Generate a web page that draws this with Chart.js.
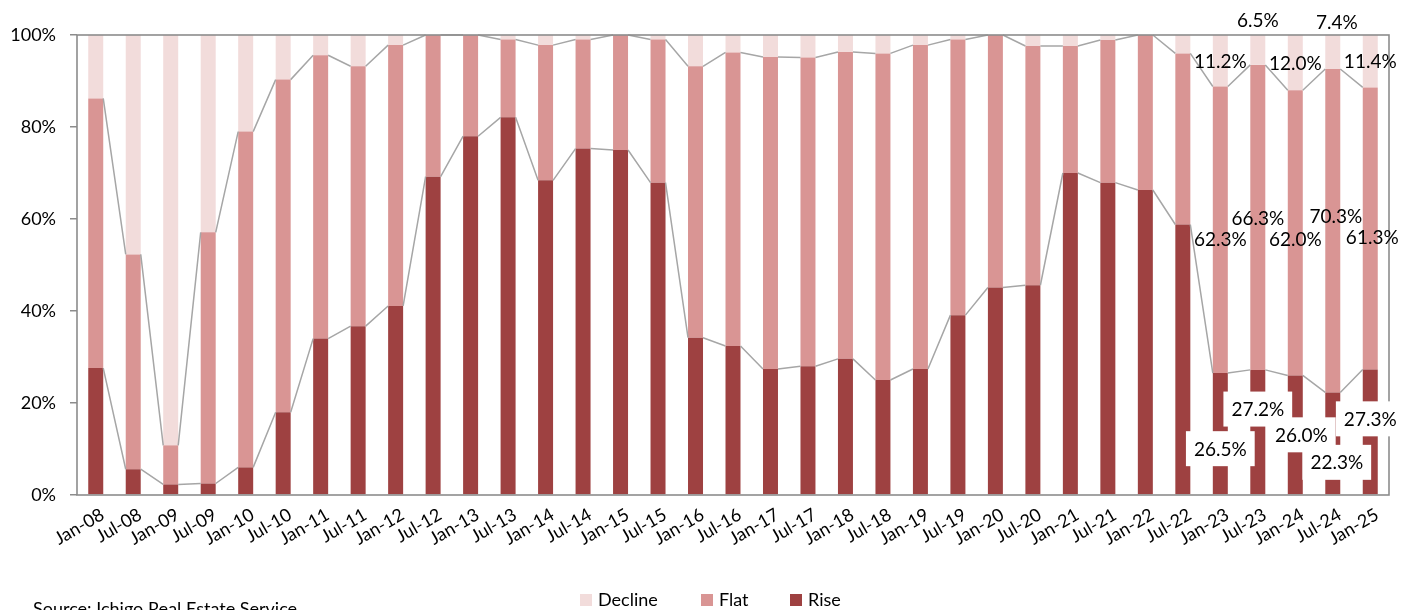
<!DOCTYPE html>
<html>
<head>
<meta charset="utf-8">
<script src="https://cdn.jsdelivr.net/npm/chart.js@4.4.1/dist/chart.umd.min.js"></script>
<style>
  html, body { margin: 0; padding: 0; background: #ffffff; }
  #wrap { width: 1416px; height: 610px; position: relative; overflow: hidden; }
  canvas { display: block; }
</style>
</head>
<body>
<div id="wrap"><canvas id="c" width="1416" height="610"></canvas></div>
<script>
// Half-yearly survey periods
const categories = [
  'Jan-08','Jul-08','Jan-09','Jul-09','Jan-10','Jul-10','Jan-11','Jul-11','Jan-12','Jul-12',
  'Jan-13','Jul-13','Jan-14','Jul-14','Jan-15','Jul-15','Jan-16','Jul-16','Jan-17','Jul-17',
  'Jan-18','Jul-18','Jan-19','Jul-19','Jan-20','Jul-20','Jan-21','Jul-21','Jan-22','Jul-22',
  'Jan-23','Jul-23','Jan-24','Jul-24','Jan-25'
];

// Share of locations (%) by price direction
const rise = [
  27.6, 5.6, 2.3, 2.5, 6.0, 18.0, 34.0, 36.7, 41.1, 69.2,
  78.0, 82.1, 68.4, 75.3, 75.0, 67.9, 34.2, 32.4, 27.4, 28.0,
  29.6, 25.0, 27.4, 39.1, 45.1, 45.6, 70.0, 67.9, 66.3, 58.8,
  26.5, 27.2, 26.0, 22.3, 27.3
];
const flat = [
  58.6, 46.7, 8.5, 54.6, 73.0, 72.3, 61.6, 56.5, 56.7, 30.8,
  22.0, 16.9, 29.4, 23.7, 25.0, 31.1, 59.0, 63.8, 67.8, 67.1,
  66.7, 71.0, 70.4, 59.9, 54.9, 52.0, 27.6, 31.0, 33.7, 37.2,
  62.3, 66.3, 62.0, 70.3, 61.3
];
const decline = [
  13.8, 47.7, 89.2, 42.9, 21.0, 9.7, 4.4, 6.8, 2.2, 0,
  0, 1.0, 2.2, 1.0, 0, 1.0, 6.8, 3.8, 4.8, 4.9,
  3.7, 4.0, 2.2, 1.0, 0, 2.4, 2.4, 1.1, 0, 4.0,
  11.2, 6.5, 12.0, 7.4, 11.4
];

// Periods that carry value labels
const labelledPeriods = ['Jan-23','Jul-23','Jan-24','Jul-24','Jan-25'];

// Percentage axis ticks
const yTicks = [0, 20, 40, 60, 80, 100];

const sourceText = 'Source: Ichigo Real Estate Service';

// ---- styling ----
const FONT = 'Lato, "Open Sans", "DejaVu Sans", sans-serif';
const COLORS = { rise: '#9e4141', flat: '#d99594', decline: '#f2dcdb' };
const FRAME = '#8c8c8c';
const SERIES_LINE = '#a6a6a6';

// label nudges (px) per labelled period, keeps neighbouring labels apart
const labelNudge = {
  decline: [[0, 0], [0, -30], [0, 0], [4, -30], [0, 0]],
  flat:    [[0, 9], [0, 0], [0, 6], [3, -15], [2, 8]],
  rise:    [[0, 15], [0, -23], [6, 0], [4, 19], [0, -13]]
};

const fmt = v => v.toFixed(1) + '%';

const seriesLines = {
  id: 'seriesLines',
  afterDatasetsDraw(chart) {
    const ctx = chart.ctx;
    const area = chart.chartArea;
    ctx.save();
    ctx.strokeStyle = SERIES_LINE;
    ctx.lineWidth = 1.5;
    // connector lines between tops of the Rise and Flat segments
    [0, 1].forEach(di => {
      const els = chart.getDatasetMeta(di).data;
      ctx.beginPath();
      for (let i = 0; i < els.length - 1; i++) {
        const a = els[i], b = els[i + 1];
        ctx.moveTo(a.x + a.width / 2, a.y);
        ctx.lineTo(b.x - b.width / 2, b.y);
      }
      ctx.stroke();
    });
    // plot frame
    ctx.strokeStyle = FRAME;
    ctx.lineWidth = 1.6;
    ctx.strokeRect(area.left, area.top, area.right - area.left, area.bottom - area.top);
    ctx.restore();
  }
};

const valueLabels = {
  id: 'valueLabels',
  afterDatasetsDraw(chart) {
    const ctx = chart.ctx;
    ctx.save();
    ctx.font = '19px ' + FONT;
    ctx.textAlign = 'center';
    ctx.textBaseline = 'middle';
    const keys = ['rise', 'flat', 'decline'];
    keys.forEach((key, di) => {
      const meta = chart.getDatasetMeta(di);
      const values = chart.data.datasets[di].data;
      labelledPeriods.forEach((p, k) => {
        const i = categories.indexOf(p);
        const el = meta.data[i];
        const [dx, dy] = labelNudge[key][k];
        const x = el.x + dx;
        const y = (el.y + el.base) / 2 + dy;
        const txt = fmt(values[i]);
        if (key === 'rise') {
          const w = ctx.measureText(txt).width + 16;
          const h = 35;
          ctx.fillStyle = '#ffffff';
          ctx.fillRect(x - w / 2, y - h / 2, w, h);
        }
        ctx.fillStyle = '#000000';
        ctx.fillText(txt, x, y + 1);
      });
    });
    ctx.restore();
  }
};

const legendAndSource = {
  id: 'legendAndSource',
  afterDraw(chart) {
    const ctx = chart.ctx;
    ctx.save();
    ctx.font = '18px ' + FONT;
    ctx.textBaseline = 'middle';
    ctx.fillStyle = '#000';
    const items = [
      { label: 'Decline', color: COLORS.decline, x: 580 },
      { label: 'Flat', color: COLORS.flat, x: 701 },
      { label: 'Rise', color: COLORS.rise, x: 790 }
    ];
    const cy = 600;
    items.forEach(it => {
      ctx.fillStyle = it.color;
      ctx.fillRect(it.x, cy - 6, 12, 12);
      ctx.fillStyle = '#000';
      ctx.fillText(it.label, it.x + 18, cy);
    });
    ctx.font = '18px ' + FONT;
    ctx.textBaseline = 'alphabetic';
    ctx.fillText(sourceText, 33, 615);
    ctx.restore();
  }
};

new Chart(document.getElementById('c'), {
  type: 'bar',
  data: {
    labels: categories,
    datasets: [
      { label: 'Rise', data: rise, backgroundColor: COLORS.rise },
      { label: 'Flat', data: flat, backgroundColor: COLORS.flat },
      { label: 'Decline', data: decline, backgroundColor: COLORS.decline }
    ]
  },
  options: {
    responsive: false,
    animation: false,
    devicePixelRatio: 1,
    layout: { padding: { top: 35, right: 27, bottom: 0, left: 0 } },
    datasets: { bar: { categoryPercentage: 1.0, barPercentage: 0.4, borderWidth: 0 } },
    plugins: {
      legend: { display: false },
      tooltip: { enabled: false },
      title: { display: false }
    },
    scales: {
      x: {
        stacked: true,
        grid: { display: false, drawTicks: false },
        border: { display: false },
        ticks: {
          font: { family: FONT, size: 18 },
          color: '#000',
          minRotation: 30,
          maxRotation: 30,
          autoSkip: false,
          padding: 9,
          labelOffset: 7
        },
        afterFit(scale) { scale.height = 115; }
      },
      y: {
        stacked: true,
        min: 0,
        max: 100,
        afterBuildTicks(scale) { scale.ticks = yTicks.map(v => ({ value: v })); },
        grid: { drawOnChartArea: false, drawTicks: true, tickLength: 7, color: FRAME, lineWidth: 1.5 },
        border: { display: false },
        ticks: {
          font: { family: FONT, size: 18 },
          color: '#000',
          padding: 14,
          callback: v => v + '%'
        },
        afterFit(scale) { scale.width = 77; }
      }
    }
  },
  plugins: [seriesLines, valueLabels, legendAndSource]
});
</script>
</body>
</html>
